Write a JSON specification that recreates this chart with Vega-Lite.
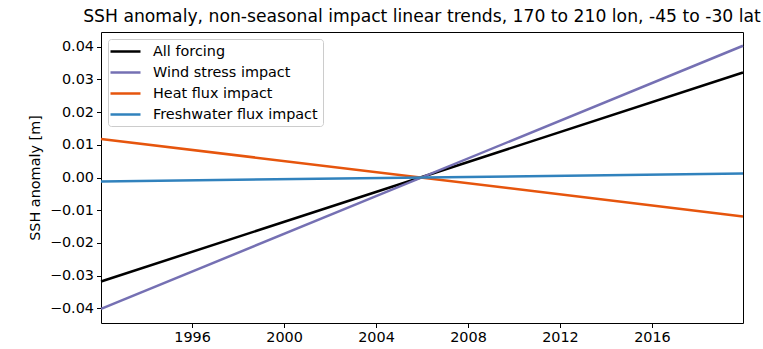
{
  "$schema": "https://vega.github.io/schema/vega-lite/v6.json",
  "autosize": {"type": "none"},
  "padding": {"left": 101, "top": 32, "right": 20, "bottom": 26},
  "width": 642,
  "height": 291,
  "background": "white",
  "title": {
    "text": "SSH anomaly, non-seasonal impact linear trends, 170 to 210 lon, -45 to -30 lat",
    "anchor": "middle",
    "font": "DejaVu Sans",
    "fontSize": 17.2,
    "fontWeight": "normal",
    "color": "black",
    "offset": 7
  },
  "config": {
    "view": {"stroke": "black", "strokeWidth": 1},
    "axis": {
      "domain": false,
      "grid": false,
      "labelFont": "DejaVu Sans",
      "labelFontSize": 14.4,
      "labelColor": "black",
      "labelOverlap": false,
      "tickColor": "black",
      "tickSize": 4.5,
      "tickWidth": 1,
      "labelPadding": 3,
      "titleFont": "DejaVu Sans",
      "titleFontSize": 14.4,
      "titleFontWeight": "normal",
      "titleColor": "black"
    }
  },
  "datasets": {
    "trends": [
      {"year": 1992.04, "ssh": -0.0318, "series": "All forcing"},
      {"year": 2019.96, "ssh": 0.0321, "series": "All forcing"},
      {"year": 1992.04, "ssh": -0.0402, "series": "Wind stress impact"},
      {"year": 2019.96, "ssh": 0.0403, "series": "Wind stress impact"},
      {"year": 1992.04, "ssh": 0.0118, "series": "Heat flux impact"},
      {"year": 2019.96, "ssh": -0.0119, "series": "Heat flux impact"},
      {"year": 1992.04, "ssh": -0.0012, "series": "Freshwater flux impact"},
      {"year": 2019.96, "ssh": 0.0012, "series": "Freshwater flux impact"}
    ]
  },
  "layer": [
    {
      "mark": {"type": "rule", "color": "#999999", "strokeWidth": 1.2},
      "encoding": {
        "y": {
          "datum": 0,
          "type": "quantitative",
          "scale": {"domain": [-0.0445, 0.0445], "nice": false},
          "axis": {
            "values": [-0.04, -0.03, -0.02, -0.01, 0, 0.01, 0.02, 0.03, 0.04],
            "format": ".2f",
            "title": "SSH anomaly [m]",
            "titlePadding": 7,
            "labelOverlap": false,
            "labelFlush": false
          }
        }
      }
    },
    {
      "data": {"name": "trends"},
      "mark": {"type": "line", "strokeWidth": 2.5},
      "encoding": {
        "x": {
          "field": "year",
          "type": "quantitative",
          "scale": {"domain": [1992.04, 2019.96], "nice": false, "zero": false},
          "axis": {"values": [1996, 2000, 2004, 2008, 2012, 2016], "format": "d", "title": null, "labelOverlap": false}
        },
        "y": {
          "field": "ssh",
          "type": "quantitative",
          "scale": {"domain": [-0.0445, 0.0445], "nice": false},
          "axis": {
            "values": [-0.04, -0.03, -0.02, -0.01, 0, 0.01, 0.02, 0.03, 0.04],
            "format": ".2f",
            "title": "SSH anomaly [m]",
            "titlePadding": 7,
            "labelOverlap": false,
            "labelFlush": false
          }
        },
        "color": {
          "field": "series",
          "type": "nominal",
          "sort": ["All forcing", "Wind stress impact", "Heat flux impact", "Freshwater flux impact"],
          "scale": {
            "domain": ["All forcing", "Wind stress impact", "Heat flux impact", "Freshwater flux impact"],
            "range": ["#000000", "#7570b3", "#e6550d", "#3182bd"]
          },
          "legend": {
            "title": null,
            "orient": "none",
            "legendX": 7,
            "legendY": 7,
            "symbolType": "M-2.5,0H2.5",
            "symbolSize": 144,
            "symbolStrokeWidth": 2.5,
            "symbolOffset": 5,
            "labelOffset": 20,
            "labelFont": "DejaVu Sans",
            "labelFontSize": 14.4,
            "labelColor": "black",
            "labelLimit": 400,
            "rowPadding": 6,
            "padding": 5,
            "fillColor": "rgba(255,255,255,0.8)",
            "strokeColor": "#cccccc",
            "cornerRadius": 3
          }
        },
        "order": {"field": "series"}
      }
    }
  ]
}
